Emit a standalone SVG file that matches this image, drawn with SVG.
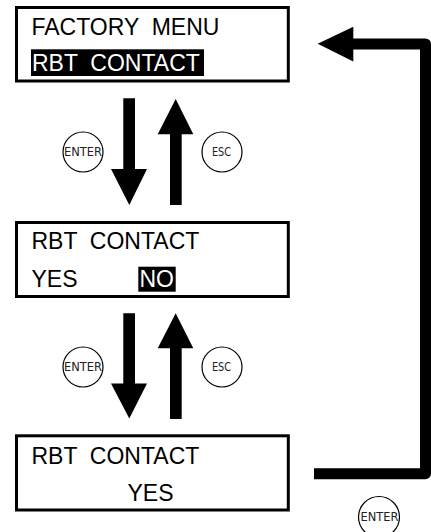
<svg xmlns="http://www.w3.org/2000/svg" width="431" height="532" viewBox="0 0 431 532">
  <style>
    .box { fill: #fff; stroke: #000; stroke-width: 3; }
    .lcd { font-family: "Liberation Sans", Arial, sans-serif; font-size: 23px; fill: #000; white-space: pre; }
    .inv { fill: #fff; }
    .hl { fill: #000; }
    .btn { fill: #fff; stroke: #000; stroke-width: 1.2; }
    .btxt { font-family: "DejaVu Sans", sans-serif; font-size: 12px; fill: #222; text-anchor: middle; }
    .arr { fill: #000; stroke: none; }
    .loop { fill: none; stroke: #000; stroke-width: 11; stroke-linejoin: round; stroke-linecap: butt; }
  </style>
  <rect width="431" height="532" fill="#fff"/>

  <g id="screen-factory-menu">
    <rect class="box" x="16.5" y="7.5" width="271.8" height="73.5"/>
    <text class="lcd" x="31.5" y="35">FACTORY  MENU</text>
    <rect class="hl" x="31" y="49.3" width="173" height="26.7"/>
    <text class="lcd inv" x="32" y="70.5">RBT  CONTACT</text>
  </g>

  <g id="screen-rbt-no">
    <rect class="box" x="16.5" y="222.5" width="271.8" height="74"/>
    <text class="lcd" x="31.5" y="249">RBT  CONTACT</text>
    <text class="lcd" x="31.5" y="287">YES</text>
    <rect class="hl" x="138.3" y="266.7" width="37.4" height="25"/>
    <text class="lcd inv" x="139.5" y="287">NO</text>
  </g>

  <g id="screen-rbt-yes">
    <rect class="box" x="16.5" y="435.8" width="271.8" height="74.2"/>
    <text class="lcd" x="31.5" y="463.5">RBT  CONTACT</text>
    <text class="lcd" x="127.5" y="500.5">YES</text>
  </g>

  <g id="btn-enter-1">
    <circle class="btn" cx="83" cy="152" r="20"/>
    <text class="btxt" x="83" y="156.3" textLength="38" lengthAdjust="spacingAndGlyphs">ENTER</text>
  </g>
  <g id="btn-esc-1">
    <circle class="btn" cx="222" cy="152" r="20"/>
    <text class="btxt" x="221.5" y="156.3" textLength="19" lengthAdjust="spacingAndGlyphs">ESC</text>
  </g>
  <g id="btn-enter-2">
    <circle class="btn" cx="83" cy="367" r="20"/>
    <text class="btxt" x="83" y="371.3" textLength="38" lengthAdjust="spacingAndGlyphs">ENTER</text>
  </g>
  <g id="btn-esc-2">
    <circle class="btn" cx="222" cy="367" r="20"/>
    <text class="btxt" x="221.5" y="371.3" textLength="19" lengthAdjust="spacingAndGlyphs">ESC</text>
  </g>
  <g id="btn-enter-3">
    <circle class="btn" cx="379" cy="517" r="20.5"/>
    <text class="btxt" x="379.5" y="521" textLength="38" lengthAdjust="spacingAndGlyphs">ENTER</text>
  </g>

  <g id="connectors">
    <polygon class="arr" points="123.3,98.3 135,98.3 135,169 147,169 129.3,205 111,169 123.3,169"/>
    <polygon class="arr" points="175.7,99 193.3,134.3 181.7,134.3 181.7,205 170,205 170,134.3 157.7,134.3"/>
    <polygon class="arr" points="123.3,313.3 135,313.3 135,383.5 147,383.5 129.3,418.5 111,383.5 123.3,383.5"/>
    <polygon class="arr" points="175.7,313.3 193.3,348.3 181.7,348.3 181.7,419 170,419 170,348.3 157.7,348.3"/>
    <path class="loop" d="M314 473.7 H425.5 V44 H352"/>
    <polygon class="arr" points="353.3,26.7 317.7,43.8 353.3,61.5"/>
  </g>
</svg>
